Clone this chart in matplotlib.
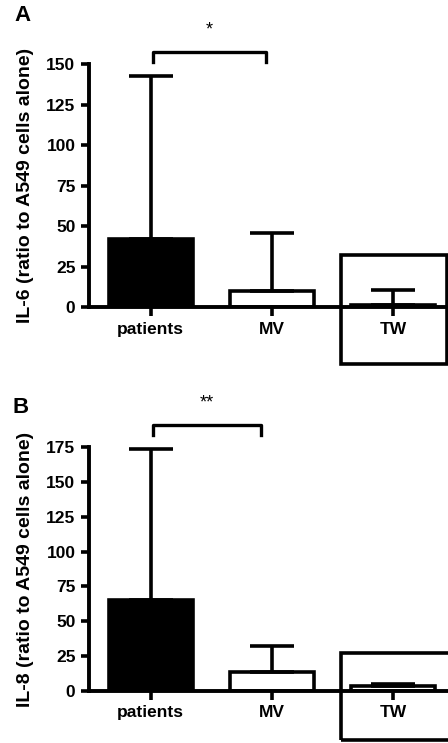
import matplotlib
matplotlib.use("Agg")
import matplotlib.pyplot as plt
from matplotlib.patches import Rectangle
import numpy as np

plt.rcParams['font.family'] = ['Liberation Sans', 'DejaVu Sans']
plt.rcParams['font.weight'] = 'bold'

categories = ["patients", "MV", "TW"]
il6_mean = [42, 10, 1.5]
il6_err_upper = [143, 46, 10.5]
il8_mean = [65, 13.5, 3.5]
il8_err_upper = [174, 32, 4.5]
il6_ticks = [0, 25, 50, 75, 100, 125, 150]
il8_ticks = [0, 25, 50, 75, 100, 125, 150, 175]
fills = ["black", "white", "white"]

fig = plt.figure(figsize=(4.48, 7.43), dpi=100)
W, H = 448, 743

def make_ax(top_px, bottom_px):
    left = 89.3 / W
    return fig.add_axes([left, 1 - bottom_px / H, 1 - left, (bottom_px - top_px) / H])

def panel(ax, means, ups, ticks, ylabel, stars, br_y, br_x2, box_top, box_bottom, box_w, lw=2.6):
    x = np.arange(len(categories))
    ax.bar(x, means, width=0.69, color=fills, edgecolor="black", linewidth=lw, zorder=2)
    lower = np.zeros(len(means))
    upper = np.array(ups) - np.array(means)
    ax.errorbar(x, means, yerr=[lower, upper], fmt="none", ecolor="black",
                elinewidth=lw, capsize=16, capthick=lw, zorder=3)
    ax.set_xlim(-0.506, 2.451)
    ax.set_ylim(0, ticks[-1])
    ax.set_yticks(ticks)
    ax.set_xticks(x)
    ax.set_xticklabels(categories, fontsize=12.5, fontweight="bold")
    ax.tick_params(axis="y", labelsize=12.5, width=lw, length=6, pad=4)
    ax.tick_params(axis="x", width=lw, length=6.5, pad=4)
    for t in ax.get_yticklabels():
        t.set_fontweight("bold")
    for s in ["top", "right"]:
        ax.spines[s].set_visible(False)
    for s in ["left", "bottom"]:
        ax.spines[s].set_linewidth(2.8)
    ax.patch.set_alpha(0)
    ax.set_ylabel(ylabel, fontsize=14, fontweight="bold", labelpad=9)
    # significance bracket
    drop = ticks[-1] * 0.04
    ax.plot([0.015, 0.015, br_x2, br_x2], [br_y - drop, br_y, br_y, br_y - drop],
            color="black", lw=2.4, clip_on=False)
    ax.text((0.015 + br_x2) / 2, br_y + ticks[-1] * 0.09, stars, ha="center", va="center",
            fontsize=13, fontweight="normal", clip_on=False)
    # highlight box around TW
    rect = Rectangle((2 - 0.434, box_bottom), 0.434 + box_w, box_top - box_bottom,
                     fill=False, edgecolor="black", linewidth=2.6, clip_on=False, zorder=4)
    ax.add_patch(rect)
    return ax

axA = make_ax(64.3, 307.3)
panel(axA, il6_mean, il6_err_upper, il6_ticks, "IL-6 (ratio to A549 cells alone)", "*",
      157.4, 0.948, 32.3, -35.0, 0.44)
fig.text(22.7 / W, 1 - 15.7 / H, "A", fontsize=16, fontweight="bold", ha="center", va="center")

axB = make_ax(447.3, 690.7)
panel(axB, il8_mean, il8_err_upper, il8_ticks, "IL-8 (ratio to A549 cells alone)", "**",
      191, 0.907, 27, -35.5, 0.6)
fig.text(20.7 / W, 1 - 407.3 / H, "B", fontsize=16, fontweight="bold", ha="center", va="center")

fig.savefig("out.png", dpi=100)
